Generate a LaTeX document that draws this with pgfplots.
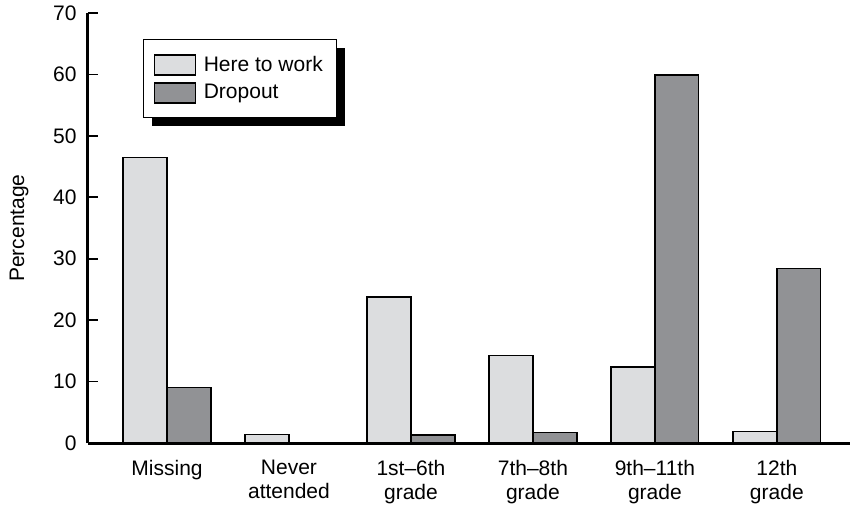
\documentclass[border=0pt]{standalone}
\usepackage{pgfplots}
\pgfplotsset{compat=1.18}
\usepackage{fontspec}
\setmainfont{Liberation Sans}
\usetikzlibrary{shadows}
\definecolor{lightbar}{HTML}{DCDDDF}
\definecolor{darkbar}{HTML}{919295}
\newcommand{\chartfont}{\fontsize{10.5}{12}\selectfont}
\makeatletter
\tikzset{no preactions/.code={\let\tikz@preactions\pgfutil@empty}}
\makeatother
\begin{document}
\chartfont
\begin{tikzpicture}
\useasboundingbox (-44pt,-31pt) rectangle (382pt,221.5pt);
\begin{axis}[
  at={(0,0)}, anchor=south west,
  scale only axis,
  width=381pt, height=215pt,
  xmin=-0.648, xmax=5.6,
  ymin=0, ymax=70,
  axis lines*=left,
  axis line style={line width=1.5pt},
  ybar=0pt, bar width=0.36,
  xtick={0,1,2,3,4,5},
  xticklabels={Missing,{Never\\attended},{1st--6th\\grade},{7th--8th\\grade},{9th--11th\\grade},{12th\\grade}},
  xticklabel style={align=center, font=\chartfont, yshift=-5pt},
  x tick style={draw=none},
  ytick={0,10,20,30,40,50,60,70},
  y tick style={line width=0.9pt, black},
  tick align=inside,
  major tick length=5pt,
  yticklabel style={font=\chartfont, xshift=-2pt},
  /pgf/number format/assume math mode=true,
  ylabel={Percentage},
  ylabel style={font=\chartfont, at={(axis description cs:0,0.5)}, anchor=south, yshift=26pt},
  every axis plot/.append style={draw=black, line width=0.7pt},
  legend cell align=left,
  legend style={at={(axis description cs:0.0722,0.939)}, anchor=north west,
    draw=black, line width=0.6pt, fill=white,
    font=\chartfont,
    inner xsep=5pt, inner ysep=6pt,
    row sep=1pt,
    /tikz/every odd column/.append style={column sep=2pt},
    /tikz/every even column/.append style={column sep=8pt},
    drop shadow={shadow xshift=4pt, shadow yshift=-4pt, fill=black, opacity=1}},
  legend image code/.code={\draw[no preactions, #1, draw=black, line width=0.6pt] (0pt,-5pt) rectangle (20.5pt,5pt);},
]
\addplot[fill=lightbar] coordinates {(0,46.5) (1,1.35) (2,23.8) (3,14.2) (4,12.4) (5,1.9)};
\addplot[fill=darkbar] coordinates {(0,9.0) (1,0) (2,1.3) (3,1.7) (4,59.9) (5,28.4)};
\legend{Here to work, Dropout}
\end{axis}
\end{tikzpicture}
\end{document}
